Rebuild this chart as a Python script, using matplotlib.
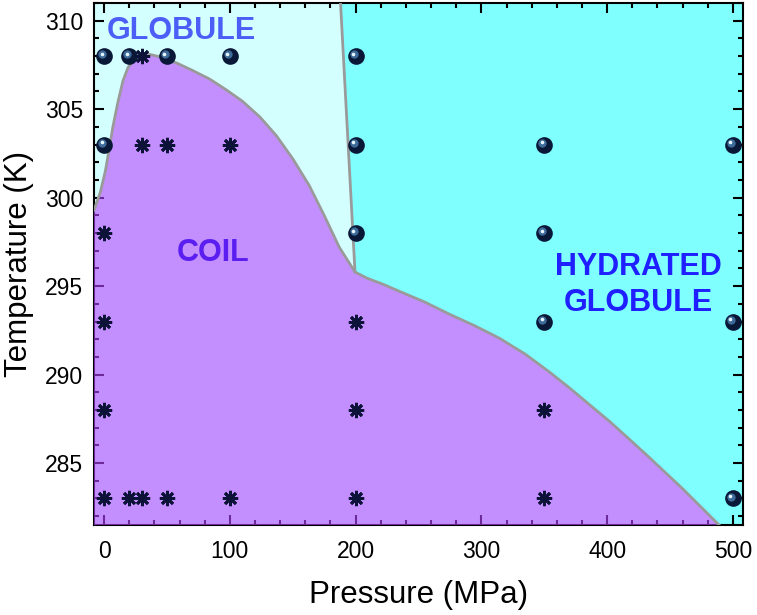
import numpy as np
import matplotlib.pyplot as plt
from matplotlib.transforms import offset_copy
from matplotlib.ticker import MultipleLocator

plt.rcParams['font.family'] = ['Liberation Sans', 'DejaVu Sans']

# phase boundary between coil and globule states (MPa, K)
coil_p = [-8, -3, 1, 4, 7, 11, 15, 19, 24, 30, 36, 45, 58, 70, 84, 97, 110, 124,
          137, 150, 163, 175, 187, 199.5, 209, 222, 235, 255, 275, 295, 314.5, 335,
          354, 370, 386, 402, 430, 460, 489]
coil_t = [299.3, 300.3, 301.5, 302.7, 304.0, 305.4, 306.6, 307.35, 307.8, 308.05,
          308.1, 307.95, 307.6, 307.2, 306.7, 306.1, 305.45, 304.55, 303.5, 302.2,
          300.7, 299.0, 297.2, 295.8, 295.45, 295.1, 294.7, 294.1, 293.4, 292.75,
          292.05, 291.15, 290.15, 289.25, 288.3, 287.35, 285.55, 283.55, 281.5]
# boundary globule / hydrated globule
hyd_p = [188, 199.5]
hyd_t = [311, 295.8]

# measured states
glob_p = [0, 20, 50, 100, 200, 0, 200, 350, 500, 200, 350, 350, 500, 500]
glob_t = [308, 308, 308, 308, 308, 303, 303, 303, 303, 298, 298, 293, 293, 283]
coil_pts_p = [30, 30, 50, 100, 0, 0, 200, 0, 200, 350, 0, 20, 30, 50, 100, 200, 350]
coil_pts_t = [308, 303, 303, 303, 298, 293, 293, 288, 288, 288, 283, 283, 283, 283, 283, 283, 283]

xmin, xmax = -8, 508
ymin, ymax = 281.5, 311

fig = plt.figure(figsize=(7.57, 6.15), dpi=100)
ax = fig.add_axes([0.1242, 0.1463, 0.8573, 0.8488])
ax.set_facecolor('#d4ffff')

# hydrated globule region
hx = hyd_p + [p for p in coil_p if p > 199.5] + [xmax, xmax]
ht = hyd_t + [t for p, t in zip(coil_p, coil_t) if p > 199.5] + [ymin, ymax]
ax.fill(hx, ht, color='#80ffff', lw=0, zorder=1)

# coil region (translucent, over the axes like the original)
cx = coil_p + [coil_p[-1], xmin]
ct = coil_t + [ymin, ymin]
ax.fill(cx, ct, color=(0.72, 0.27, 1.0), alpha=0.6, lw=0, zorder=3)

ax.plot(coil_p, coil_t, color='#9a9a9a', lw=2, zorder=4)
ax.plot(hyd_p, hyd_t, color='#9a9a9a', lw=2, zorder=4)

# spheres: dark body plus highlight
ax.scatter(glob_p, glob_t, s=12**2, color='#0a1838', lw=0, zorder=6)
tr1 = offset_copy(ax.transData, fig=fig, x=-1.3, y=1.3, units='points')
ax.scatter(glob_p, glob_t, s=6**2, color='#3d6a98', lw=0, zorder=7, transform=tr1)
tr2 = offset_copy(ax.transData, fig=fig, x=-1.8, y=1.8, units='points')
ax.scatter(glob_p, glob_t, s=2.6**2, color='#e8f6ff', lw=0, zorder=8, transform=tr2)

ax.plot(coil_pts_p, coil_pts_t, ls='none', marker=(8, 2, 0), ms=11,
        mew=2.0, color='#0d1238', zorder=6)

ax.text(2, 309.4, 'GLOBULE', color='#4d5ef7', fontsize=22, fontweight='bold',
        ha='left', va='center', zorder=9)
ax.text(86.5, 296.9, 'COIL', color='#5a1ff0', fontsize=22, fontweight='bold',
        ha='center', va='center', zorder=9)
ax.text(425, 295.05, 'HYDRATED\nGLOBULE', color='#1f1fff', fontsize=22,
        fontweight='bold', ha='center', va='center', linespacing=1.25, zorder=9)

ax.set_xlim(xmin, xmax)
ax.set_ylim(ymin, ymax)
ax.xaxis.set_major_locator(MultipleLocator(100))
ax.xaxis.set_minor_locator(MultipleLocator(20))
ax.yaxis.set_major_locator(MultipleLocator(5))
ax.yaxis.set_minor_locator(MultipleLocator(1))
ax.tick_params(which='both', direction='in', top=True, right=True, width=1.5,
               labelsize=16.5)
ax.tick_params(axis='x', pad=11)
ax.tick_params(axis='y', pad=8)
ax.tick_params(which='major', length=7)
ax.tick_params(which='minor', length=3.5)
for s in ax.spines.values():
    s.set_linewidth(1.5)

ax.set_xlabel('Pressure (MPa)', fontsize=22.5, labelpad=12)
ax.set_ylabel('Temperature (K)', fontsize=22.5, labelpad=8)

fig.savefig('out.png', dpi=100)
